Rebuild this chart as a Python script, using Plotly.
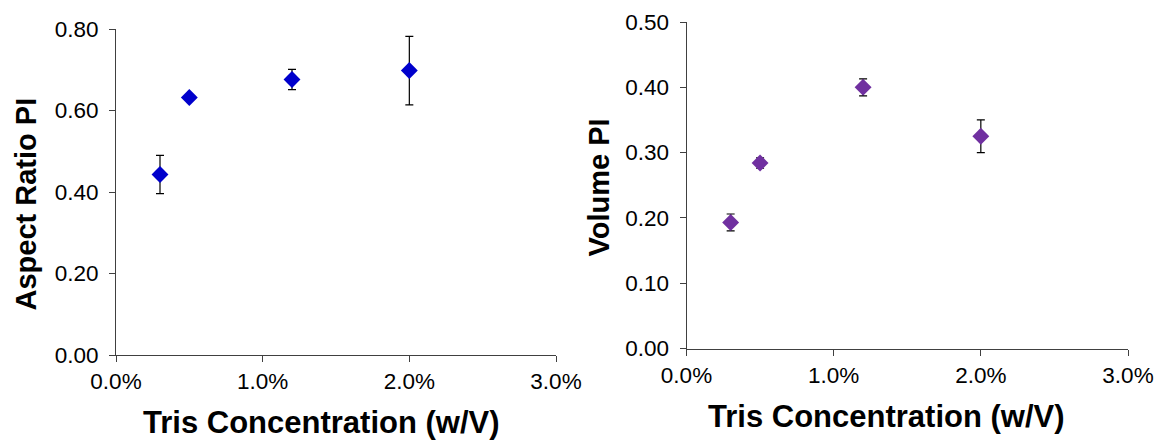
import plotly.graph_objects as go

# Tris concentration (w/V, as fraction)
tris_conc = [0.003, 0.005, 0.012, 0.020]

# Aspect ratio polydispersity index and its standard deviation
aspect_pi = [0.443, 0.632, 0.676, 0.698]
aspect_err = [0.047, 0.005, 0.025, 0.084]

# Volume polydispersity index and its standard deviation
volume_pi = [0.193, 0.284, 0.400, 0.325]
volume_err = [0.013, 0.008, 0.013, 0.025]

W, H = 1157, 442
FONT = "Liberation Sans, Arial, sans-serif"
AXIS_COLOR = "#404040"


def px_x(p):
    return p / W


def px_y(p):
    return 1 - p / H


fig = go.Figure()

fig.add_trace(go.Scatter(
    x=tris_conc, y=aspect_pi, mode="markers",
    marker=dict(symbol="diamond", size=13, color="#0000CC"),
    error_y=dict(type="data", array=aspect_err, color="#000000", thickness=1.2, width=4),
    xaxis="x", yaxis="y", showlegend=False,
))

fig.add_trace(go.Scatter(
    x=tris_conc, y=volume_pi, mode="markers",
    marker=dict(symbol="diamond", size=13, color="#7030A0"),
    error_y=dict(type="data", array=volume_err, color="#000000", thickness=1.2, width=4),
    xaxis="x2", yaxis="y2", showlegend=False,
))

tick_font = dict(family=FONT, size=22.5, color="#000000")

common_x = dict(
    range=[0, 0.03], dtick=0.01, tick0=0, tickformat=".1%",
    showgrid=False, zeroline=False, showline=True, linecolor=AXIS_COLOR, linewidth=1,
    ticks="outside", ticklen=6, tickcolor=AXIS_COLOR, tickwidth=1,
    tickfont=tick_font, automargin=False,
)
common_y = dict(
    tickformat=".2f", tick0=0,
    showgrid=False, zeroline=False, showline=True, linecolor=AXIS_COLOR, linewidth=1,
    ticks="outside", ticklen=6, tickcolor=AXIS_COLOR, tickwidth=1,
    tickfont=tick_font, ticklabelstandoff=6, automargin=False,
)

fig.update_layout(
    width=W, height=H,
    margin=dict(l=0, r=0, t=0, b=0),
    paper_bgcolor="#FFFFFF", plot_bgcolor="#FFFFFF",
    xaxis=dict(common_x, domain=[px_x(116), px_x(556)], anchor="y"),
    yaxis=dict(common_y, range=[0, 0.8], dtick=0.2,
               domain=[px_y(355), px_y(29)], anchor="x"),
    xaxis2=dict(common_x, domain=[px_x(686.5), px_x(1128)], anchor="y2"),
    yaxis2=dict(common_y, range=[0, 0.5], dtick=0.1,
                domain=[px_y(348.5), px_y(22)], anchor="x2"),
)

# Axis titles, placed in pixel positions on the page
titles = [
    ("Tris Concentration (w/V)", 321, 422.5, 0, 31),
    ("Tris Concentration (w/V)", 886, 416, 0, 31),
    ("Aspect Ratio PI", 25.5, 204, -90, 29),
    ("Volume PI", 598, 187.5, -90, 29),
]
for text, x, y, angle, size in titles:
    fig.add_annotation(
        text="<b>" + text + "</b>", x=px_x(x), y=px_y(y),
        xref="paper", yref="paper",
        xanchor="center", yanchor="middle", textangle=angle,
        showarrow=False, font=dict(family=FONT, size=size, color="#000000"),
    )

fig.write_html("out.html")
